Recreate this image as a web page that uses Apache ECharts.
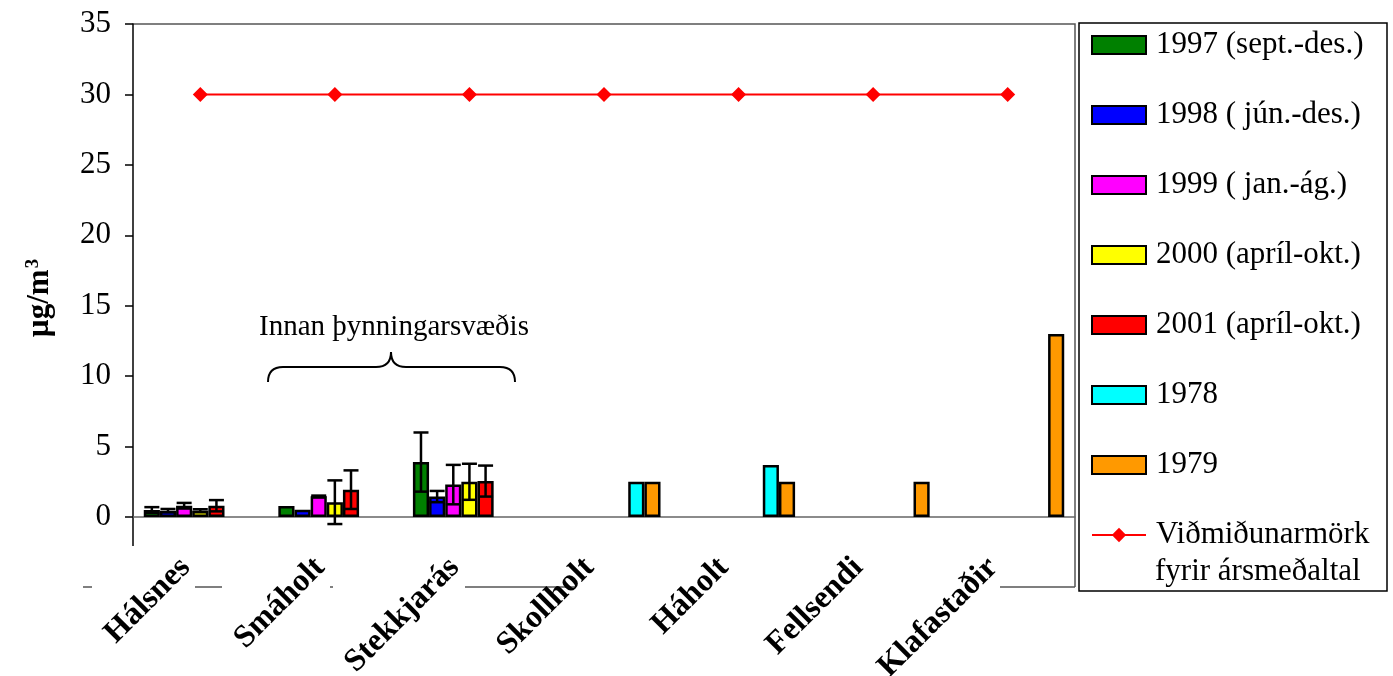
<!DOCTYPE html>
<html>
<head>
<meta charset="utf-8">
<script src="https://cdn.jsdelivr.net/npm/echarts@6/dist/echarts.min.js"></script>
<style>
html,body{margin:0;padding:0;background:#fff;}
#main{width:1393px;height:676px;}
</style>
</head>
<body>
<div id="main"></div>
<script>
// stöðvar
var categories = ['Hálsnes', 'Smáholt', 'Stekkjarás', 'Skollholt', 'Háholt', 'Fellsendi', 'Klafastaðir'];
// meðaltöl (µg/m3)
var s1997 = [0.5, 0.78, 3.9, null, null, null, null];
var s1998 = [0.45, 0.52, 1.45, null, null, null, null];
var s1999 = [0.8, 1.47, 2.3, null, null, null, null];
var s2000 = [0.45, 1.05, 2.5, null, null, null, null];
var s2001 = [0.8, 1.94, 2.55, null, null, null, null];
var s1978 = [null, null, null, 2.5, 3.7, null, null];
var s1979 = [null, null, null, 2.5, 2.5, 2.5, 13];
// staðalfrávik (villustrik)
var e1997 = [0.2, 0, 2.1, null, null, null, null];
var e1998 = [0.12, 0, 0.4, null, null, null, null];
var e1999 = [0.2, 0.05, 1.4, null, null, null, null];
var e2000 = [0.1, 1.55, 1.28, null, null, null, null];
var e2001 = [0.4, 1.37, 1.1, null, null, null, null];
// viðmiðunarmörk
var limit = [30, 30, 30, 30, 30, 30, 30];
var yTicks = [0, 5, 10, 15, 20, 25, 30, 35];

var serif = 'Liberation Serif, Times New Roman, serif';
var catGap = 0.16;
var nSlots = 7;

var myChart = echarts.init(document.getElementById('main'));

function errSeries(vals, errs, slot) {
	var d = [];
	for (var i = 0; i < vals.length; i++) {
		if (vals[i] != null && errs[i]) d.push([i, vals[i], errs[i]]);
	}
	return {
		type: 'custom',
		silent: true,
		z: 5,
		data: d,
		renderItem: function (params, api) {
			var i = api.value(0), v = api.value(1), e = api.value(2);
			var band = api.size([1, 0])[0];
			var w = band * (1 - catGap) / nSlots;
			var x = api.coord([i, v])[0] + (slot - (nSlots - 1) / 2) * w;
			var yt = api.coord([i, v + e])[1];
			var yb = api.coord([i, v - e])[1];
			var cap = 7.5;
			var st = {stroke: '#000', lineWidth: 2.5};
			return {
				type: 'group',
				children: [
					{type: 'line', shape: {x1: x, y1: yt, x2: x, y2: yb}, style: st},
					{type: 'line', shape: {x1: x - cap, y1: yt, x2: x + cap, y2: yt}, style: st},
					{type: 'line', shape: {x1: x - cap, y1: yb, x2: x + cap, y2: yb}, style: st}
				]
			};
		}
	};
}

function barSeries(name, data, color) {
	return {
		name: name,
		type: 'bar',
		data: data,
		barGap: 0,
		barCategoryGap: (catGap * 100) + '%',
		itemStyle: {color: color, borderColor: '#000', borderWidth: 2.5}
	};
}

var braceSt = {stroke: '#000', lineWidth: 2, fill: null};
var lineName = 'Viðmiðunarmörk fyrir ársmeðaltal';
var barNames = ['1997 (sept.-des.)', '1998 ( jún.-des.)', '1999 ( jan.-ág.)', '2000 (apríl-okt.)', '2001 (apríl-okt.)', '1978', '1979'];

var legendData = barNames.map(function (n) { return {name: n, icon: 'rect'}; });
legendData.push({name: lineName});

option = {
	animation: false,
	textStyle: {fontFamily: serif},
	grid: {left: 133, right: 318, top: 24, bottom: 159, containLabel: false, outerBoundsMode: 'none'},
	legend: {
		orient: 'vertical',
		left: 1091,
		top: 28,
		itemWidth: 54,
		itemHeight: 18,
		itemGap: 36,
		padding: 0,
		textStyle: {fontFamily: serif, fontSize: 31, color: '#000', lineHeight: 34, padding: [0, 0, 0, 5]},
		formatter: function (n) {
			return n === lineName ? 'Viðmiðunarmörk' : n;
		},
		data: legendData
	},
	xAxis: {
		type: 'category',
		data: categories,
		axisLine: {lineStyle: {color: '#666', width: 1.5}},
		axisTick: {length: 9, interval: 0, lineStyle: {color: '#666', width: 1.5}},
		axisLabel: {
			interval: 0,
			rotate: 45,
			margin: 31,
			padding: [0, 21, 0, 0],
			fontFamily: serif,
			fontSize: 32,
			fontWeight: 'bold',
			color: '#000'
		}
	},
	yAxis: {
		type: 'value',
		min: 0,
		max: 35,
		interval: 5,
		splitLine: {show: false},
		axisLine: {show: true, lineStyle: {color: '#000', width: 1.5}},
		axisTick: {show: true, length: 8, lineStyle: {color: '#000', width: 1.5}},
		axisLabel: {
			margin: 22,
			fontFamily: serif,
			fontSize: 31,
			color: '#000',
			formatter: function (v) { return yTicks.indexOf(v) >= 0 ? String(v) : ''; }
		}
	},
	graphic: [
		// y-ás nær niður fyrir 0
		{type: 'line', shape: {x1: 133, y1: 517, x2: 133, y2: 546}, style: {stroke: '#000', lineWidth: 1.5}},
		// rammi um teiknisvæði
		{type: 'polyline', shape: {points: [[133, 24], [1075, 24], [1075, 587]]}, style: {stroke: '#555', lineWidth: 1.5, fill: null}},
		{type: 'line', shape: {x1: 83, y1: 587, x2: 92, y2: 587}, style: {stroke: '#555', lineWidth: 1.5}},
		{type: 'line', shape: {x1: 195, y1: 587, x2: 222, y2: 587}, style: {stroke: '#555', lineWidth: 1.5}},
		{type: 'line', shape: {x1: 330, y1: 587, x2: 333, y2: 587}, style: {stroke: '#555', lineWidth: 1.5}},
		{type: 'line', shape: {x1: 465, y1: 587, x2: 575, y2: 587}, style: {stroke: '#555', lineWidth: 1.5}},
		{type: 'line', shape: {x1: 1000, y1: 587, x2: 1075, y2: 587}, style: {stroke: '#555', lineWidth: 1.5}},
		// rammi um skýringar
		{type: 'rect', shape: {x: 1079, y: 23, width: 308, height: 568}, style: {stroke: '#000', lineWidth: 1.5, fill: null}},
		{type: 'text', x: 1155, y: 572, style: {text: 'fyrir ársmeðaltal', font: '31px ' + serif, fill: '#000', verticalAlign: 'middle'}},
		// y-ás titill
		{
			type: 'text', x: 40, y: 298, rotation: Math.PI / 2,
			style: {
				text: '{a|µg/m}{b|3}',
				align: 'center', verticalAlign: 'middle',
				rich: {
					a: {font: 'bold 31px ' + serif, fill: '#000'},
					b: {font: 'bold 19px ' + serif, fill: '#000', verticalAlign: 'top', padding: [0, 0, 14, 1]}
				}
			}
		},
		// innan þynningarsvæðis
		{type: 'text', x: 394, y: 327, style: {text: 'Innan þynningarsvæðis', font: '29px ' + serif, fill: '#000', align: 'center', verticalAlign: 'middle'}},
		{type: 'bezierCurve', shape: {x1: 268, y1: 382, cpx1: 268, cpy1: 367, x2: 283, y2: 367}, style: braceSt},
		{type: 'line', shape: {x1: 283, y1: 367, x2: 376, y2: 367}, style: braceSt},
		{type: 'bezierCurve', shape: {x1: 376, y1: 367, cpx1: 391, cpy1: 367, x2: 391, y2: 352}, style: braceSt},
		{type: 'bezierCurve', shape: {x1: 391, y1: 352, cpx1: 391, cpy1: 367, x2: 406, y2: 367}, style: braceSt},
		{type: 'line', shape: {x1: 406, y1: 367, x2: 500, y2: 367}, style: braceSt},
		{type: 'bezierCurve', shape: {x1: 500, y1: 367, cpx1: 515, cpy1: 367, x2: 515, y2: 382}, style: braceSt}
	],
	series: [
		barSeries(barNames[0], s1997, '#008000'),
		barSeries(barNames[1], s1998, '#0000FF'),
		barSeries(barNames[2], s1999, '#FF00FF'),
		barSeries(barNames[3], s2000, '#FFFF00'),
		barSeries(barNames[4], s2001, '#FF0000'),
		barSeries(barNames[5], s1978, '#00FFFF'),
		barSeries(barNames[6], s1979, '#FF9900'),
		errSeries(s1997, e1997, 0),
		errSeries(s1998, e1998, 1),
		errSeries(s1999, e1999, 2),
		errSeries(s2000, e2000, 3),
		errSeries(s2001, e2001, 4),
		{
			name: lineName,
			type: 'line',
			data: limit,
			z: 6,
			symbol: 'diamond',
			symbolSize: 15,
			itemStyle: {color: '#FF0000'},
			lineStyle: {color: '#FF0000', width: 2}
		}
	]
};

myChart.setOption(option);
window.onresize = myChart.resize;
</script>
</body>
</html>
